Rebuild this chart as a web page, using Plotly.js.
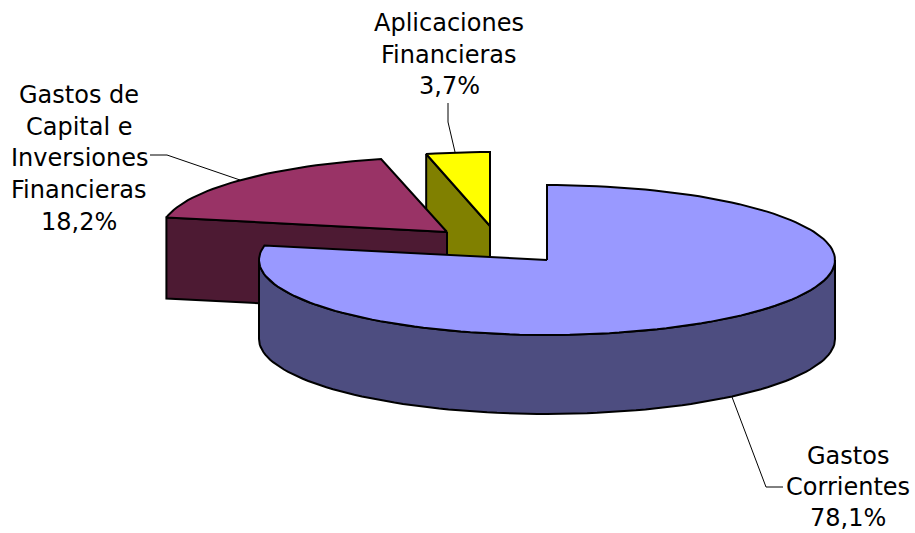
<!DOCTYPE html>
<html><head><meta charset="utf-8">
<script src="https://cdn.plot.ly/plotly-3.0.1.min.js"></script>
<style>html,body{margin:0;padding:0;background:#fff}#c{width:915px;height:533px}</style>
</head><body><div id="c"></div>
<script>
// data
const categories = ['Gastos Corrientes', 'Gastos de Capital e Inversiones Financieras', 'Aplicaciones Financieras'];
const shares = [78.1, 18.2, 3.7];
const labelLines = [['Gastos', 'Corrientes'], ['Gastos de', 'Capital e', 'Inversiones', 'Financieras'], ['Aplicaciones', 'Financieras']];
// styling / projection
const topColors = ['#9999FF', '#993366', '#FFFF00'];
const sideColors = ['#4D4D80', '#4D1A33', '#808000'];
const apexX = [547, 447, 490];
const apexY = [260, 232, 226];
const radiusX = [288, 286, 277];
const radiusY = [75, 75, 74];
const depth = [79, 81, 80];
const labelX = [848, 79, 449];
const labelY = [456, 95, 23];
const lineSteps = [31, 31.7, 31.7];
const leaders = [
  {x: [732, 766, 783], y: [397, 487, 487]},
  {x: [150, 167, 240], y: [155, 155, 180]},
  {x: [448, 448, 455], y: [103, 122, 152]}
];

const rad = d => d * Math.PI / 180;
const total = shares.reduce((a, b) => a + b, 0);
let acc = 0;
const slices = shares.map((v, i) => {
  const s = {i, from: acc / total * 360, to: (acc + v) / total * 360};
  acc += v; return s;
});
const rim = (i, deg, drop) => [
  apexX[i] + radiusX[i] * Math.sin(rad(deg)),
  apexY[i] - radiusY[i] * Math.cos(rad(deg)) + (drop || 0)
];
function arc(i, a, b, drop) {
  const n = Math.max(1, Math.round(Math.abs(b - a) / 2));
  const pts = [];
  for (let k = 0; k <= n; k++) pts.push(rim(i, a + (b - a) * k / n, drop));
  return pts;
}
function poly(pts, color, width) {
  return {
    type: 'scatter', mode: 'lines', x: pts.map(p => p[0]), y: pts.map(p => p[1]),
    fill: 'toself', fillcolor: color, line: {color: '#000', width: width || 2},
    hoverinfo: 'skip', showlegend: false
  };
}
const apex = (i, drop) => [apexX[i], apexY[i] + (drop || 0)];
function cutFace(s, deg) {
  const i = s.i;
  return poly([apex(i), rim(i, deg), rim(i, deg, depth[i]), apex(i, depth[i]), apex(i)], sideColors[i]);
}
function topFace(s) {
  const i = s.i;
  const pts = [apex(i)].concat(arc(i, s.from, s.to)); pts.push(apex(i));
  return poly(pts, topColors[i]);
}
function wall(s) {
  const i = s.i;
  const a = Math.max(s.from, 90), b = Math.min(s.to, 270);
  const pts = arc(i, a, b).concat(arc(i, b, a, depth[i]));
  pts.push(pts[0]);
  return poly(pts, sideColors[i]);
}
const [main, capital, aplic] = slices;
const traces = [
  cutFace(aplic, aplic.from), topFace(aplic),
  cutFace(capital, capital.from), topFace(capital),
  wall(main), topFace(main)
];
leaders.forEach(l => traces.push({
  type: 'scatter', mode: 'lines', x: l.x, y: l.y,
  line: {color: '#000', width: 1}, hoverinfo: 'skip', showlegend: false
}));

const annotations = [];
labelLines.forEach((lines, i) => {
  const pct = shares[i].toFixed(1).replace('.', ',') + '%';
  lines.concat([pct]).forEach((t, k) => annotations.push({
    x: labelX[i], y: labelY[i] + k * lineSteps[i], xref: 'x', yref: 'y',
    text: t, showarrow: false, xanchor: 'center', yanchor: 'middle',
    font: {family: 'DejaVu Sans, sans-serif', size: 24, color: '#000'}
  }));
});

const hidden = {visible: false, showgrid: false, zeroline: false, fixedrange: true};
Plotly.newPlot('c', traces, {
  width: 915, height: 533, margin: {l: 0, r: 0, t: 0, b: 0},
  paper_bgcolor: '#fff', plot_bgcolor: '#fff', showlegend: false,
  xaxis: Object.assign({range: [0, 915]}, hidden),
  yaxis: Object.assign({range: [533, 0]}, hidden),
  annotations
}, {displayModeBar: false, staticPlot: true});
</script></body></html>
